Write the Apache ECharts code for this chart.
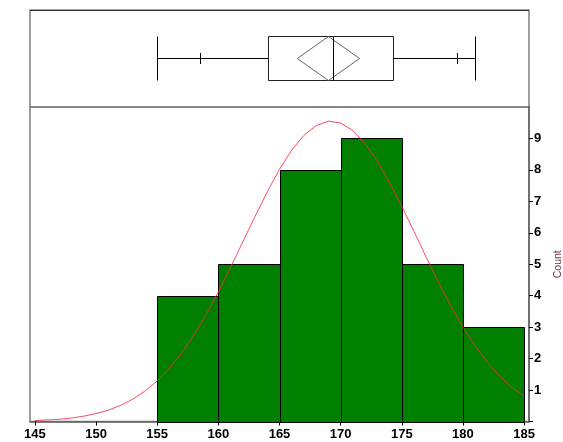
<!DOCTYPE html>
<html><head><meta charset="utf-8">
<script src="https://cdn.jsdelivr.net/npm/echarts@6/dist/echarts.min.js"></script>
<style>html,body{margin:0;padding:0;background:#fff}#c{width:563px;height:442px}</style>
</head><body><div id="c"></div>
<script>
// ---- data ----
const binStarts = [155, 160, 165, 170, 175, 180];
const binWidth = 5;
const counts = [4, 5, 8, 9, 5, 3];
const xTicks = [145, 150, 155, 160, 165, 170, 175, 180, 185];
const yTickLabels = [1, 2, 3, 4, 5, 6, 7, 8, 9];
// fitted curve (x, count)
const curveX = [145,146,147,148,149,150,151,152,153,154,155,156,157,158,159,160,161,162,163,164,165,166,167,168,169,170,171,172,173,174,175,176,177,178,179,180,181,182,183,184,185];
const curveY = [0.03,0.05,0.07,0.11,0.17,0.25,0.36,0.51,0.71,0.97,1.29,1.70,2.18,2.75,3.40,4.12,4.90,5.71,6.52,7.30,8.02,8.63,9.10,9.41,9.55,9.49,9.25,8.84,8.28,7.60,6.84,6.04,5.22,4.43,3.68,3.00,2.40,1.88,1.44,1.09,0.80];
// box plot summary: [min, lowTick, q1, median, q3, highTick, max, mean, meanCIhalf]
const boxStats = [155.0, 158.5, 164.1, 169.4, 174.3, 179.5, 181.0, 169.0, 2.55];

const X_MIN = 144.6, X_MAX = 185.4;
const FONT = 'Liberation Sans, Arial, sans-serif';

const chart = echarts.init(document.getElementById('c'), null, {renderer: 'canvas'});

function px(v){ return Math.round(v) + 0.5; }

const histData = binStarts.map((s, i) => [s, s + binWidth, counts[i]]);
const curveData = curveX.map((x, i) => [x, curveY[i]]);

chart.setOption({
  animation: false,
  backgroundColor: '#fff',
  grid: [
    {left: 30, right: 34, top: 10, height: 97, show: true, borderColor: '#808080', borderWidth: 1.5, backgroundColor: 'transparent', outerBoundsMode: 'none', containLabel: false},
    {left: 30, right: 34, top: 107, bottom: 20.5, show: true, borderColor: '#808080', borderWidth: 1.5, backgroundColor: 'transparent', outerBoundsMode: 'none', containLabel: false}
  ],
  xAxis: [
    {gridIndex: 0, type: 'value', min: X_MIN, max: X_MAX, show: false},
    {gridIndex: 1, type: 'value', min: X_MIN, max: X_MAX, interval: 5,
      axisLine: {show: true, onZero: false, lineStyle: {color: '#606060', width: 1.5}},
      axisTick: {show: true, inside: false, length: 4, lineStyle: {color: '#000'}, customValues: xTicks},
      axisLabel: {show: true, margin: 6, color: '#000', fontWeight: 'bold', fontSize: 13, fontFamily: FONT, customValues: xTicks, showMinLabel: true, showMaxLabel: true, hideOverlap: false},
      splitLine: {show: false}}
  ],
  yAxis: [
    {gridIndex: 0, type: 'value', min: 0, max: 1, show: false},
    {gridIndex: 1, type: 'value', min: 0, max: 10, interval: 1, position: 'right',
      axisLine: {show: true, lineStyle: {color: '#606060', width: 1.5}},
      axisTick: {show: true, inside: false, length: 4, lineStyle: {color: '#000'}, customValues: [0,1,2,3,4,5,6,7,8,9]},
      axisLabel: {show: true, margin: 5, color: '#000', fontWeight: 'bold', fontSize: 13, fontFamily: FONT, customValues: yTickLabels},
      splitLine: {show: false},
      name: 'Count', nameLocation: 'middle', nameRotate: 90, nameGap: 22,
      nameTextStyle: {color: '#6e3444', fontSize: 10.5, fontFamily: FONT}}
  ],
  series: [
    {
      type: 'custom', xAxisIndex: 1, yAxisIndex: 1, data: histData,
      encode: {x: [0, 1], y: 2},
      renderItem: function (params, api) {
        const a = api.coord([api.value(0), api.value(2)]);
        const b = api.coord([api.value(1), 0]);
        const x0 = px(a[0]), x1 = px(b[0]), y0 = px(a[1]), y1 = px(b[1]);
        return {type: 'rect', shape: {x: x0, y: y0, width: x1 - x0, height: y1 - y0},
          style: {fill: '#007f00', stroke: '#000', lineWidth: 1}};
      }
    },
    {
      type: 'line', xAxisIndex: 1, yAxisIndex: 1, data: curveData,
      showSymbol: false, smooth: false, z: 5,
      lineStyle: {color: '#ff2a4a', width: 1, opacity: 0.85}
    },
    {
      type: 'custom', xAxisIndex: 0, yAxisIndex: 0, data: [boxStats],
      renderItem: function (params, api) {
        const v = i => api.value(i);
        const yc = api.coord([v(0), 0.5])[1] - 0.2;
        const X = i => px(api.coord([v(i), 0.5])[0]);
        const H = 22, T = 5.5;
        const top = px(yc - H), bot = px(yc + H), mid = px(yc);
        const ln = (x1, y1, x2, y2, c) => ({type: 'line', shape: {x1, y1, x2, y2}, style: {stroke: c || '#000', lineWidth: 1}});
        const mean = v(7), ci = v(8);
        const xl = api.coord([mean - ci, 0.5])[0], xr = api.coord([mean + ci, 0.5])[0], xm = api.coord([mean, 0.5])[0];
        return {type: 'group', children: [
          ln(X(0), top, X(0), bot),
          ln(X(6), top, X(6), bot),
          ln(X(0), mid, X(2), mid),
          ln(X(4), mid, X(6), mid),
          ln(X(1), mid - T, X(1), mid + T),
          ln(X(5), mid - T, X(5), mid + T),
          {type: 'rect', shape: {x: X(2), y: top, width: X(4) - X(2), height: bot - top}, style: {fill: 'none', stroke: '#222', lineWidth: 1}},
          {type: 'polygon', shape: {points: [[xl, mid], [xm, top], [xr, mid], [xm, bot]]}, style: {fill: 'none', stroke: '#666', lineWidth: 1}},
          ln(X(3), top, X(3), bot)
        ]};
      }
    }
  ],
  graphic: [
    {type: 'line', shape: {x1: 30, y1: 10.5, x2: 529, y2: 10.5}, style: {stroke: '#333', lineWidth: 1}, z: 100}
  ]
});
</script></body></html>
